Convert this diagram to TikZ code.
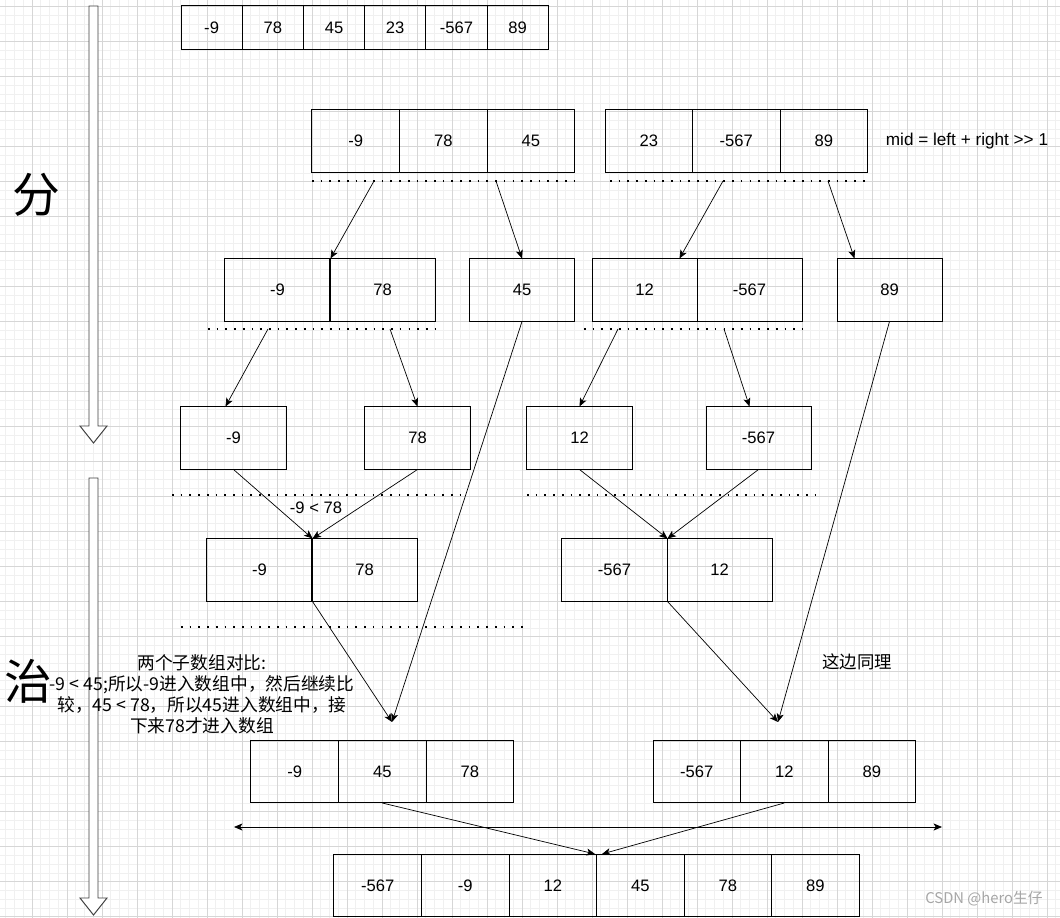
\documentclass[tikz,border=0pt]{standalone}
\usepackage{fontspec}
\setmainfont{Liberation Sans}
\newfontfamily\cjk{Noto Sans CJK SC}
\usetikzlibrary{arrows.meta,calc}

\begin{document}
\begin{tikzpicture}[x=0.025cm,y=-0.025cm,
  every node/.style={font=\fontsize{11.8}{15}\selectfont},
  box/.style={draw,line width=0.7pt,inner sep=0pt,minimum height=1.55cm,text height=8.5pt,text depth=0pt},
  boxS/.style={box,minimum width=1.53cm,minimum height=1.075cm},
  boxM/.style={box,minimum width=2.1875cm},
  boxL/.style={box,minimum width=2.625cm},
  link/.style={-{Stealth[length=6pt,width=5pt,inset=1.5pt]},line width=0.5pt},
  sep/.style={line width=1.2pt,dash pattern=on 1.2pt off 5pt},
  hollow/.style={draw=black!75,fill=white,line width=0.7pt}]
\useasboundingbox (0,0) rectangle (1060,918);
\fill[white] (0,0) rectangle (1060,918);
% grid
\foreach \k in {0,...,121} {\draw[black!6,line width=0.4pt] (-3+8.75*\k,0) -- (-3+8.75*\k,918);}
\foreach \k in {0,...,105} {\draw[black!6,line width=0.4pt] (0,-2+8.75*\k) -- (1060,-2+8.75*\k);}
\foreach \k in {0,...,30} {\draw[black!16,line width=0.5pt] (-3+35*\k,0) -- (-3+35*\k,918);}
\foreach \k in {0,...,26} {\draw[black!16,line width=0.5pt] (0,6.7+35*\k) -- (1060,6.7+35*\k);}

% left arrows
\draw[hollow] (89,6) -- (98,6) -- (98,426) -- (107,426) -- (93.5,443) -- (80,426) -- (89,426) -- cycle;
\draw[hollow] (89,478) -- (98,478) -- (98,898) -- (107,898) -- (93.5,915) -- (80,898) -- (89,898) -- cycle;
\node (fen) at (36,195) {\cjk\fontsize{34}{34}\selectfont 分};
\node (zhi) at (28,681) {\cjk\fontsize{34}{34}\selectfont 治};

% row 0
\node[boxS] (a1) at (211.6,27.5) {-9}; \node[boxS] (a2) at (272.8,27.5) {78}; \node[boxS] (a3) at (334,27.5) {45};
\node[boxS] (a4) at (395.2,27.5) {23}; \node[boxS] (a5) at (456.4,27.5) {-567}; \node[boxS] (a6) at (517.6,27.5) {89};

% row 1
\node[boxM] (b1) at (355.75,141) {-9}; \node[boxM] (b2) at (443.25,141) {78}; \node[boxM] (b3) at (530.75,141) {45};
\node[boxM] (b4) at (648.75,141) {23}; \node[boxM] (b5) at (736.25,141) {-567}; \node[boxM] (b6) at (823.75,141) {89};
\node[font=\fontsize{12.2}{15}\selectfont] (mid) at (967,141) {mid = left + right >{}> 1};
\draw[sep] (312,181) -- (580,181); \draw[sep] (610,181) -- (871,181);

% row 2
\node[boxL] (c1) at (277.5,290) {-9}; \node[boxL] (c2) at (382.5,290) {78}; \node[boxL] (c3) at (522,290) {45};
\node[boxL] (c4) at (644.5,290) {12}; \node[boxL] (c5) at (749.5,290) {-567}; \node[boxL] (c6) at (889.5,290) {89};
\draw[sep] (208,329) -- (440,329); \draw[sep] (584,329) -- (802,329);

% row 3
\node[boxL] (d1) at (233.5,438) {-9}; \node[boxL] (d2) at (417.5,438) {78};
\node[boxL] (d3) at (579.5,438) {12}; \node[boxL] (d4) at (758.5,438) {-567};
\draw[sep] (172,495) -- (467,495); \draw[sep] (527,495) -- (822,495);

% row 4
\node[boxL] (e1) at (259.5,570) {-9}; \node[boxL] (e2) at (364.5,570) {78};
\node[boxL] (e3) at (614.5,570) {-567}; \node[boxL] (e4) at (719.5,570) {12};
\node (cmp) at (316,508) {-9 < 78};
\draw[sep] (181,627) -- (526,627);

% row 5
\node[boxM] (f1) at (294.75,771.5) {-9}; \node[boxM] (f2) at (382.25,771.5) {45}; \node[boxM] (f3) at (469.75,771.5) {78};
\node[boxM] (g1) at (696.75,771.5) {-567}; \node[boxM] (g2) at (784.25,771.5) {12}; \node[boxM] (g3) at (871.75,771.5) {89};
\node[align=center,font=\cjk\fontsize{12.6}{15}\selectfont] (note) at (202,694)
  {两个子数组对比:\\-9 < 45;所以-9进入数组中，然后继续比\\较，45 < 78，所以45进入数组中，接\\下来78才进入数组};
\node[font=\cjk\fontsize{12.4}{15}\selectfont] (same) at (857,662) {这边同理};

% row 6
\node[boxM] (h1) at (377.75,885.5) {-567}; \node[boxM] (h2) at (465.25,885.5) {-9}; \node[boxM] (h3) at (552.75,885.5) {12};
\node[boxM] (h4) at (640.25,885.5) {45}; \node[boxM] (h5) at (727.75,885.5) {78}; \node[boxM] (h6) at (815.25,885.5) {89};
\node[font=\cjk\fontsize{10.5}{12}\selectfont,text=black!35] (mark) at (984,899) {CSDN @hero生仔};

% arrows
\coordinate (s1) at (374,181); \coordinate (s2) at (496,181); \coordinate (s3) at (723,181); \coordinate (s4) at (828,181);
\coordinate (s5) at (268,329); \coordinate (s6) at (390,329); \coordinate (s7) at (618,329); \coordinate (s8) at (724,329);
\coordinate (t1) at (392,722); \coordinate (t2) at (778,722);
\coordinate (ll) at (234,827); \coordinate (rr) at (942,827);
\draw[link] (s1) -- (c1.north east); \draw[link] (s2) -- (c3.north);
\draw[link] (s3) -- ($(c4.north)+(35,0)$); \draw[link] (s4) -- ($(c6.north)+(-35,0)$);
\draw[link] (s5) -- ($(d1.north)+(-8,0)$); \draw[link] (s6) -- (d2.north);
\draw[link] (s7) -- (d3.north); \draw[link] (s8) -- ($(d4.north)+(-9,0)$);
\draw[link] (d1.south) -- (e1.north east); \draw[link] (d2.south) -- (e1.north east);
\draw[link] (d3.south) -- (e3.north east); \draw[link] (d4.south) -- (e3.north east);
\draw[link] (e1.south east) -- (t1); \draw[link] (c3.south) -- (t1);
\draw[link] (e3.south east) -- (t2); \draw[link] (c6.south) -- (t2);
\draw[link] (f2.south) -- ($(h3.north east)+(-2,0)$); \draw[link] (g2.south) -- ($(h3.north east)+(5,0)$);
\draw[link,{Stealth[length=6pt,width=5pt,inset=1.5pt]}-{Stealth[length=6pt,width=5pt,inset=1.5pt]}] (ll) -- (rr);
\end{tikzpicture}
\end{document}
